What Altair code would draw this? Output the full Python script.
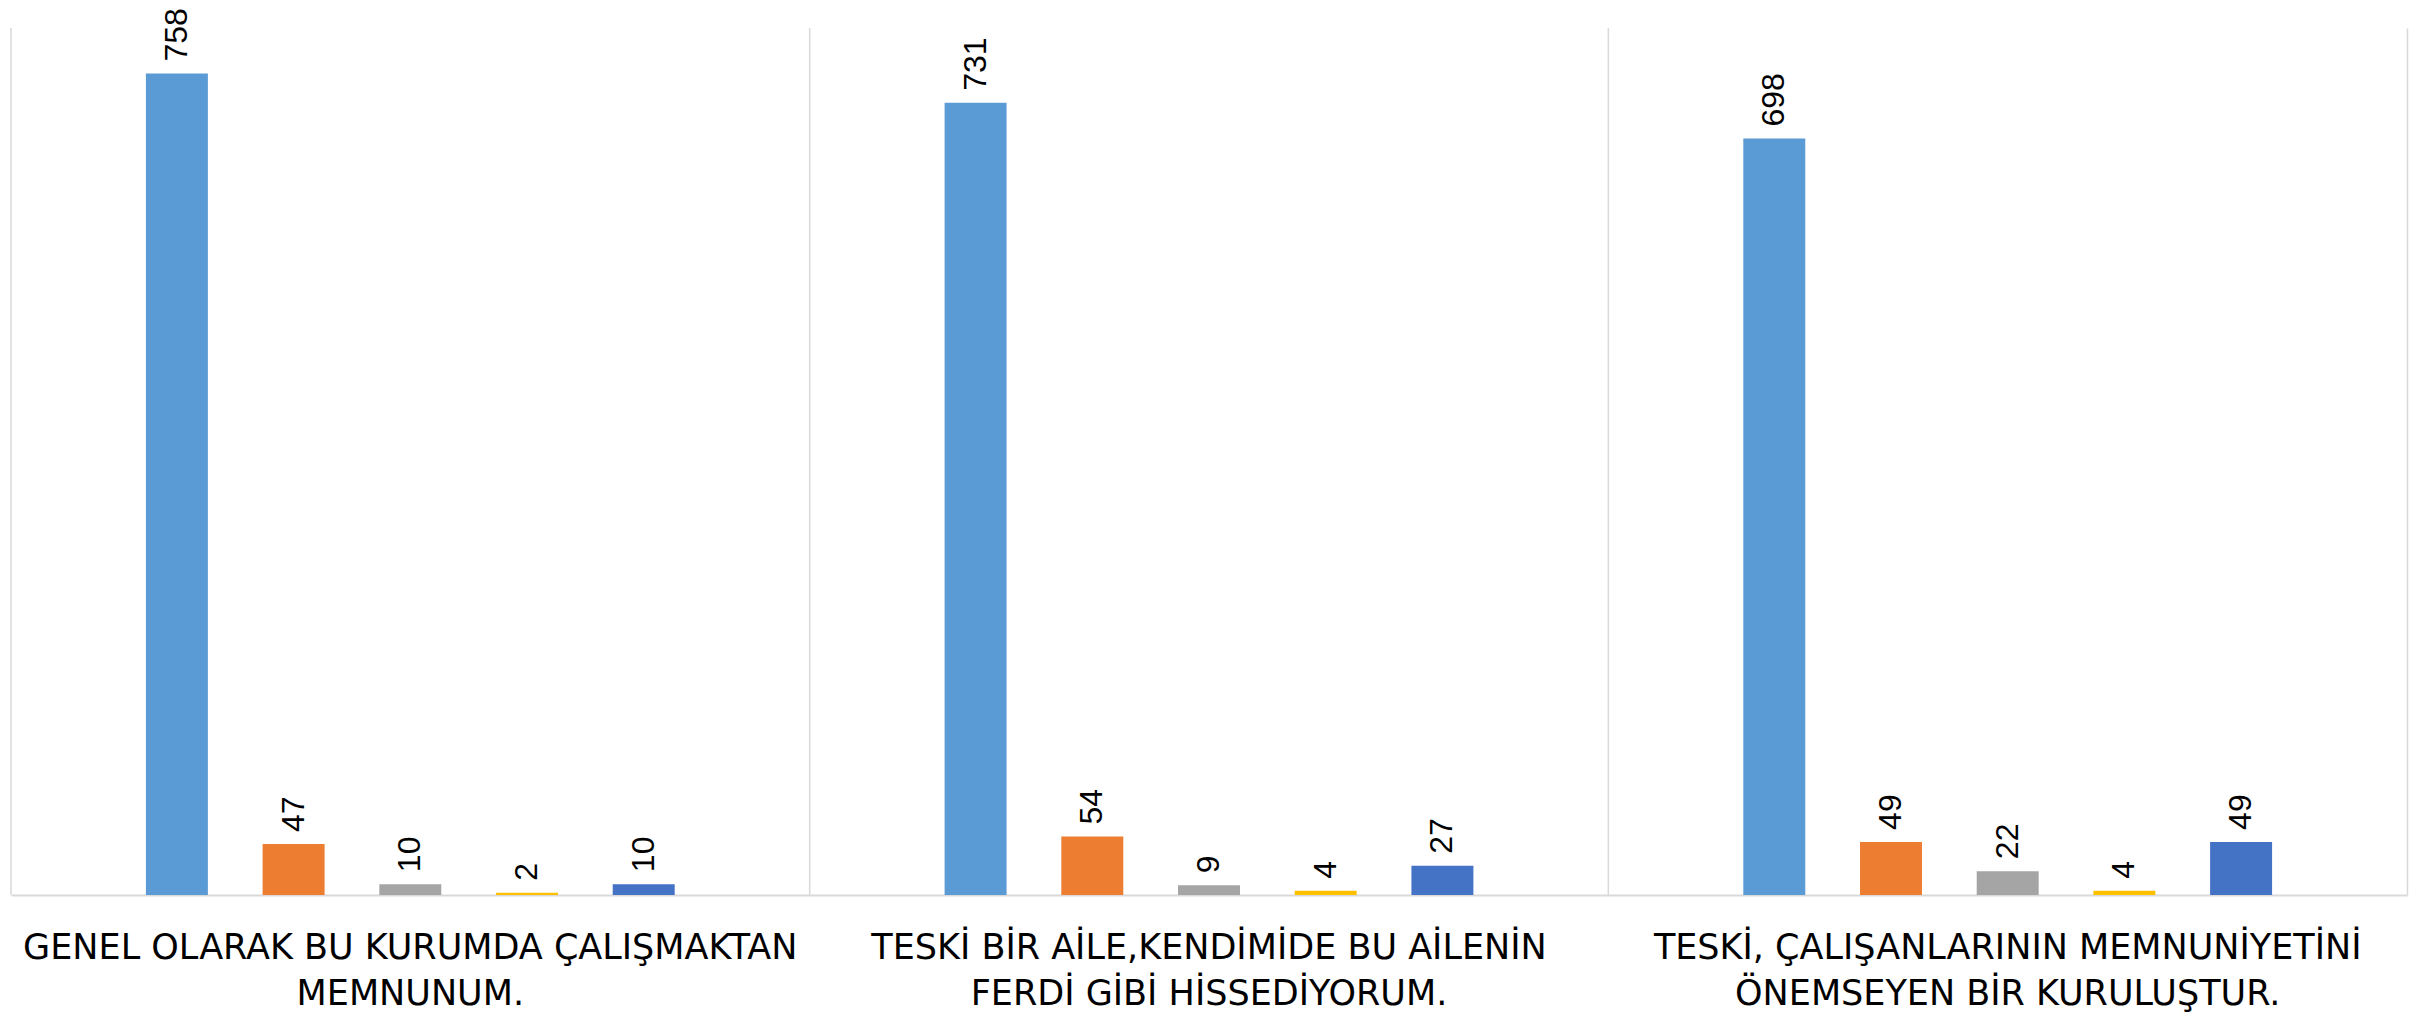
import altair as alt
import pandas as pd

categories = [
    "GENEL OLARAK BU KURUMDA ÇALIŞMAKTAN|MEMNUNUM.",
    "TESKİ BİR AİLE,KENDİMİDE BU AİLENİN|FERDİ GİBİ HİSSEDİYORUM.",
    "TESKİ, ÇALIŞANLARININ MEMNUNİYETİNİ|ÖNEMSEYEN BİR KURULUŞTUR.",
]
series = ["Seri 1", "Seri 2", "Seri 3", "Seri 4", "Seri 5"]
values_s1 = [758, 731, 698]
values_s2 = [47, 54, 49]
values_s3 = [10, 9, 22]
values_s4 = [2, 4, 4]
values_s5 = [10, 27, 49]
colors = ["#5B9BD5", "#ED7D31", "#A5A5A5", "#FFC000", "#4472C4"]

all_values = [values_s1, values_s2, values_s3, values_s4, values_s5]
rows = []
for s, vals in zip(series, all_values):
    for c, v in zip(categories, vals):
        rows.append({"category": c, "series": s, "value": v})
df = pd.DataFrame(rows)
cat_df = pd.DataFrame({"category": categories})

x_scale = alt.Scale(paddingInner=0.0457, paddingOuter=0.0228)
x_axis = alt.Axis(
    title=None, labelAngle=0, labelExpr="split(datum.label, '|')",
    ticks=False, labelPadding=35, labelFont="DejaVu Sans", labelFontSize=35,
    labelLineHeight=46, labelColor="#000000", labelLimit=0,
    domainColor="#D9D9D9", domainWidth=2, grid=False, labelOverlap=False,
    labelBaseline="top",
)
xo = alt.XOffset("series:N", sort=series,
                 scale=alt.Scale(paddingInner=0.469, paddingOuter=1))
y_enc = alt.Y("value:Q", scale=alt.Scale(domain=[0, 800]),
              axis=alt.Axis(orient="right", domain=True, domainColor="#D9D9D9",
                            domainWidth=1.5, labels=False, ticks=False,
                            grid=False, title=None))

seps = alt.Chart(cat_df).mark_rule(color="#D9D9D9", strokeWidth=1.5).encode(
    x=alt.X("category:N", sort=categories, bandPosition=0,
            scale=alt.Scale(paddingInner=0, paddingOuter=0), axis=None)
)

bars = alt.Chart(df).mark_bar().encode(
    x=alt.X("category:N", sort=categories, scale=x_scale, axis=x_axis),
    xOffset=xo,
    y=y_enc,
    color=alt.Color("series:N", scale=alt.Scale(domain=series, range=colors), legend=None),
)

labels = alt.Chart(df).mark_text(
    angle=270, align="left", baseline="middle", dx=12,
    font="Liberation Sans", fontSize=32, color="#000000"
).encode(
    x=alt.X("category:N", sort=categories, scale=x_scale, axis=x_axis),
    xOffset=xo,
    y=y_enc,
    text=alt.Text("value:Q"),
)

chart = alt.layer(seps, alt.layer(bars, labels)).resolve_scale(
    x="independent"
).properties(
    width=2396, height=867,
    padding={"left": 3, "top": 20, "right": 10, "bottom": 117},
    autosize=alt.AutoSizeParams(type="none"),
    background="#FFFFFF",
).configure_view(strokeWidth=0)

chart.save("out.html", embed_options={"renderer": "svg", "actions": False})
